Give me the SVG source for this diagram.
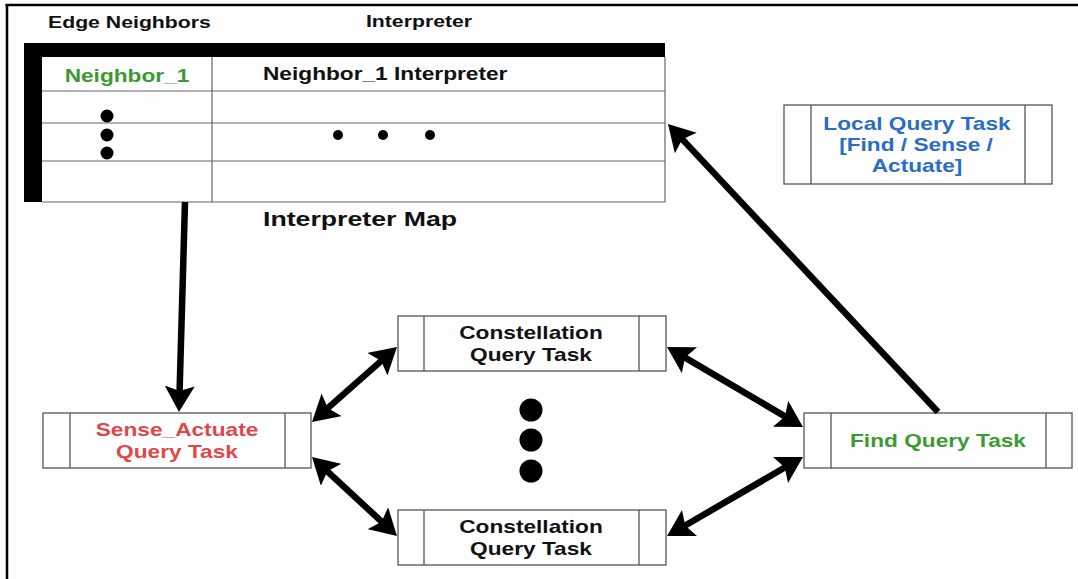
<svg xmlns="http://www.w3.org/2000/svg" width="1078" height="579" viewBox="0 0 1078 579">
<style>
text{font-family:"Liberation Sans",Arial,sans-serif;font-weight:bold;}
.hdr{font-size:17px;fill:#111;}
.t18{font-size:18px;}
.mid{text-anchor:middle;}
.blk{fill:#111;}
.grn{fill:#3c9a32;}
.red{fill:#e0474a;}
.blu{fill:#2b6cc4;}
.box{fill:#fff;stroke:#555;stroke-width:1.3;}
.div{stroke:#555;stroke-width:1.3;}
.grid{stroke:#666;stroke-width:1.2;fill:none;}
.conn{stroke:#000;stroke-width:6.5;fill:none;}
</style>
<defs>
<marker id="ah" viewBox="0 0 26 30" markerWidth="26" markerHeight="30" refX="8" refY="15" orient="auto-start-reverse" markerUnits="userSpaceOnUse">
<path d="M0,0 L26,15 L0,30 L5,15 z" fill="#000"/>
</marker>
</defs>
<rect width="1078" height="579" fill="#fff"/>
<g id="frame">
<line x1="5.5" y1="5" x2="1078" y2="5" stroke="#000" stroke-width="2.5"/>
<line x1="7" y1="4" x2="7" y2="579" stroke="#000" stroke-width="2.5"/>
</g>
<g id="interpreter-map">
<text class="hdr" transform="translate(48,28) scale(1.25,1)">Edge Neighbors</text>
<text class="hdr mid" transform="translate(419,27) scale(1.25,1)">Interpreter</text>
<rect x="24" y="43" width="641" height="14" fill="#000"/>
<rect x="24" y="43" width="18" height="159" fill="#000"/>
<path class="grid" d="M665,57 V202 H42 M42,91 H665 M42,123 H665 M42,161 H665 M212,57 V202"/>
<text class="t18 grn mid" transform="translate(127,82) scale(1.26,1)">Neighbor_1</text>
<text class="t18 blk" transform="translate(263,80) scale(1.26,1)">Neighbor_1 Interpreter</text>
<circle cx="107" cy="116" r="6.5" fill="#000"/>
<circle cx="107" cy="135" r="6.5" fill="#000"/>
<circle cx="107" cy="153" r="6.5" fill="#000"/>
<circle cx="338" cy="135" r="5" fill="#000"/>
<circle cx="383" cy="135" r="5" fill="#000"/>
<circle cx="430" cy="135" r="5" fill="#000"/>
<text class="blk" font-size="21" transform="translate(263,226) scale(1.27,1)">Interpreter Map</text>
</g>
<g id="local-query-task">
<rect class="box" x="784" y="105" width="268" height="79"/>
<line class="div" x1="811" y1="105" x2="811" y2="184"/>
<line class="div" x1="1025" y1="105" x2="1025" y2="184"/>
<text class="t18 blu mid" transform="translate(917,130) scale(1.26,1)">Local Query Task</text>
<text class="t18 blu mid" transform="translate(916,151) scale(1.26,1)">[Find / Sense /</text>
<text class="t18 blu mid" transform="translate(917,172) scale(1.26,1)">Actuate]</text>
</g>
<g id="sense-actuate-task">
<rect class="box" x="43" y="413" width="268" height="55"/>
<line class="div" x1="70" y1="413" x2="70" y2="468"/>
<line class="div" x1="285" y1="413" x2="285" y2="468"/>
<text class="t18 red mid" transform="translate(177,436) scale(1.26,1)">Sense_Actuate</text>
<text class="t18 red mid" transform="translate(177,458) scale(1.26,1)">Query Task</text>
</g>
<g id="constellation-task-top">
<rect class="box" x="398" y="316" width="268" height="55"/>
<line class="div" x1="424" y1="316" x2="424" y2="371"/>
<line class="div" x1="639" y1="316" x2="639" y2="371"/>
<text class="t18 blk mid" transform="translate(531,339) scale(1.26,1)">Constellation</text>
<text class="t18 blk mid" transform="translate(531,361) scale(1.26,1)">Query Task</text>
</g>
<g id="constellation-task-bottom">
<rect class="box" x="398" y="510" width="268" height="55"/>
<line class="div" x1="424" y1="510" x2="424" y2="565"/>
<line class="div" x1="639" y1="510" x2="639" y2="565"/>
<text class="t18 blk mid" transform="translate(531,533) scale(1.26,1)">Constellation</text>
<text class="t18 blk mid" transform="translate(531,555) scale(1.26,1)">Query Task</text>
</g>
<g id="find-query-task">
<rect class="box" x="804" y="413" width="268" height="55"/>
<line class="div" x1="831" y1="413" x2="831" y2="468"/>
<line class="div" x1="1046" y1="413" x2="1046" y2="468"/>
<text class="t18 grn mid" transform="translate(938,447) scale(1.26,1)">Find Query Task</text>
</g>
<g id="ellipsis">
<circle cx="531" cy="410" r="11.5" fill="#000"/>
<circle cx="531" cy="440" r="11.5" fill="#000"/>
<circle cx="531" cy="471" r="11.5" fill="#000"/>
</g>
<g id="connectors">
<line class="conn" x1="185" y1="202" x2="179.5" y2="394" marker-end="url(#ah)"/>
<line class="conn" x1="938" y1="412" x2="680.3" y2="137.1" marker-end="url(#ah)"/>
<line class="conn" x1="325.5" y1="410.1" x2="383.5" y2="358.9" marker-start="url(#ah)" marker-end="url(#ah)"/>
<line class="conn" x1="325.2" y1="469.3" x2="383.8" y2="523.7" marker-start="url(#ah)" marker-end="url(#ah)"/>
<line class="conn" x1="682.5" y1="356.1" x2="787.5" y2="417.9" marker-start="url(#ah)" marker-end="url(#ah)"/>
<line class="conn" x1="682.6" y1="527" x2="787.4" y2="466" marker-start="url(#ah)" marker-end="url(#ah)"/>
</g>
</svg>
